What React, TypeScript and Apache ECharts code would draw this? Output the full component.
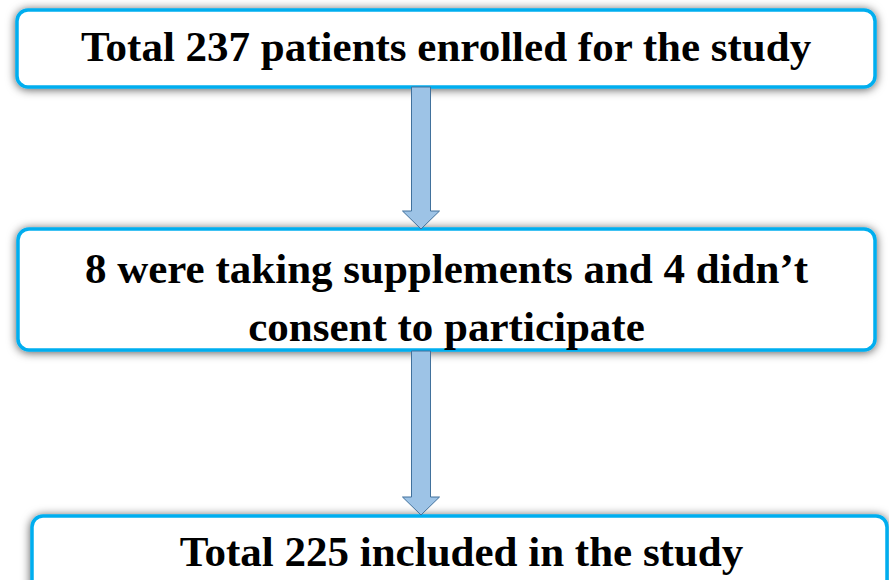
import React, { useEffect, useRef } from "react";
import * as echarts from "echarts";

const boxTexts: string[][] = [
  ["Total 237 patients enrolled for the study"],
  ["8 were taking supplements and 4 didn\u2019t", "consent to participate"],
  ["Total 225 included in the study"],
];

const boxes = [
  { x: 17, y: 10, w: 858, h: 77, lines: [46] },
  { x: 18, y: 229, w: 857, h: 121, lines: [268, 326] },
  { x: 32, y: 516, w: 855, h: 90, lines: [551] },
];

const arrows = [
  { cx: 421, top: 87, headTop: 211, tip: 229 },
  { cx: 421, top: 351, headTop: 497, tip: 515 },
];

export default function App() {
  const ref = useRef<HTMLDivElement>(null);
  useEffect(() => {
    document.body.style.margin = "0";
    const chart = echarts.init(ref.current!, null, { renderer: "svg" });
    const elements: any[] = [];
    boxes.forEach((b, i) => {
      elements.push({
        type: "rect",
        shape: { x: b.x, y: b.y, width: b.w, height: b.h, r: 11 },
        style: {
          fill: "#ffffff",
          stroke: "#00AEEF",
          lineWidth: 3.5,
          shadowBlur: 10,
          shadowColor: "rgba(0,0,0,0.65)",
          shadowOffsetX: 0,
          shadowOffsetY: 1,
        },
        z: 1,
      });
      boxTexts[i].forEach((t, j) => {
        elements.push({
          type: "text",
          x: b.x + b.w / 2 + (i === 2 ? 2 : 0),
          y: b.lines[j],
          style: {
            text: t,
            fill: "#000000",
            font: "bold 43px 'Liberation Serif', 'Times New Roman', serif",
            textAlign: "center",
            textVerticalAlign: "middle",
          },
          z: 3,
        });
      });
    });
    arrows.forEach((a) => {
      const sw = 9.5;
      const hw = 18.5;
      elements.push({
        type: "polygon",
        shape: {
          points: [
            [a.cx - sw, a.top],
            [a.cx + sw, a.top],
            [a.cx + sw, a.headTop],
            [a.cx + hw, a.headTop],
            [a.cx, a.tip],
            [a.cx - hw, a.headTop],
            [a.cx - sw, a.headTop],
          ],
        },
        style: { fill: "#9DC3E6", stroke: "#41719C", lineWidth: 1 },
        z: 2,
      });
    });
    chart.setOption({
      animation: false,
      backgroundColor: "#ffffff",
      graphic: { elements },
    });
    return () => chart.dispose();
  }, []);
  return <div ref={ref} style={{ width: 889, height: 580 }} />;
}
